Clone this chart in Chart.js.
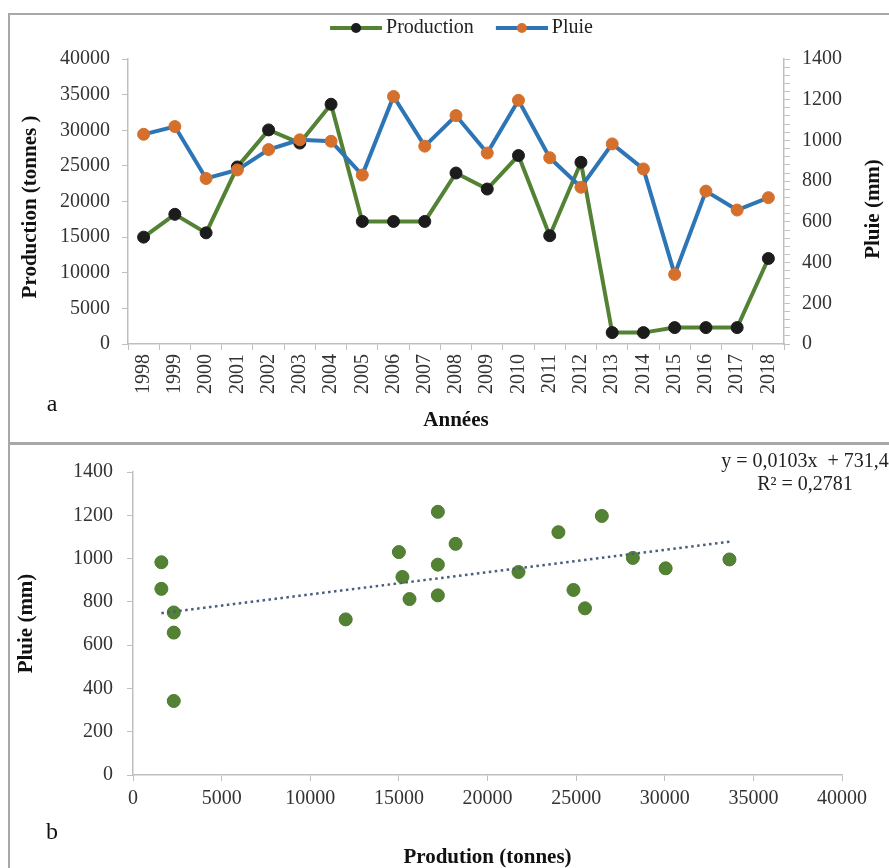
<!DOCTYPE html>
<html><head><meta charset="utf-8">
<script src="https://cdn.jsdelivr.net/npm/chart.js@4.4.1/dist/chart.umd.min.js"></script>
<style>
html,body{margin:0;padding:0;background:#fff;}
#wrap{position:relative;width:889px;height:868px;overflow:hidden;background:#fff;}
canvas{position:absolute;left:0;}
#c1{top:0;width:889px;height:440px;}
#c2{top:445px;width:889px;height:423px;}
.ln{position:absolute;background:#a8a8a8;}
</style></head><body>
<div id="wrap">
<div class="ln" style="left:8px;top:13px;width:881px;height:2px"></div>
<div class="ln" style="left:8px;top:13px;width:2px;height:855px"></div>
<div class="ln" style="left:8px;top:442px;width:881px;height:3px"></div>
<canvas id="c1" width="889" height="440"></canvas>
<canvas id="c2" width="889" height="423"></canvas>
</div>
<script>
// ---- data ----
const years = ['1998','1999','2000','2001','2002','2003','2004','2005','2006','2007','2008','2009','2010','2011','2012','2013','2014','2015','2016','2017','2018'];
const production = [15000, 18200, 15600, 24850, 30050, 28200, 33650, 17200, 17200, 17200, 24000, 21750, 26450, 15200, 25500, 1600, 1600, 2300, 2300, 2300, 12000];
const pluie = [1030, 1068, 813, 855, 955, 1003, 996, 830, 1216, 972, 1122, 938, 1197, 915, 770, 983, 860, 342, 751, 658, 719];
const trendSlope = 0.0103;
const trendIntercept = 731.4;
const trendR2 = '0,2781';

const SERIF = "'Liberation Serif','Times New Roman',serif";
Chart.defaults.font.family = SERIF;
Chart.defaults.font.size = 20;
Chart.defaults.color = '#333';

const plainNum = v => String(v);

function legendSymbol(lineColor, dotColor) {
  const c = document.createElement('canvas');
  c.width = 64; c.height = 14;
  const g = c.getContext('2d');
  g.strokeStyle = lineColor; g.lineWidth = 4;
  g.beginPath(); g.moveTo(12, 7); g.lineTo(64, 7); g.stroke();
  g.fillStyle = dotColor;
  g.beginPath(); g.arc(38, 7, 5, 0, Math.PI * 2); g.fill();
  return c;
}
const symbols = [legendSymbol('#548235', '#1c1c1c'), legendSymbol('#2e75b6', '#d4702c')];

const legendSpacer = {
  id: 'legendSpacer',
  beforeLayout(chart) {
    const lg = chart.legend;
    if (lg && !lg._spaced) {
      const f = lg.fit;
      lg.fit = function () { f.call(this); this.height += 11; };
      lg._spaced = true;
    }
  }
};

const textAnnot = {
  id: 'textAnnot',
  afterDraw(chart, args, opts) {
    const ctx = chart.ctx;
    (opts.items || []).forEach(it => {
      ctx.save();
      ctx.font = it.font;
      ctx.fillStyle = it.color || '#222';
      ctx.textAlign = it.align || 'center';
      ctx.textBaseline = 'middle';
      ctx.translate(it.x, it.y);
      if (it.rotate) ctx.rotate(it.rotate);
      ctx.fillText(it.text, 0, 0);
      ctx.restore();
    });
  }
};

const axisGray = '#bfbfbf';

// ---- chart a ----
new Chart(document.getElementById('c1'), {
  type: 'line',
  data: {
    labels: years,
    datasets: [
      { label: 'Production', data: production, yAxisID: 'y', borderColor: '#548235', borderWidth: 4,
        pointRadius: 6, pointBackgroundColor: '#1c1c1c', pointBorderColor: '#1c1c1c', pointBorderWidth: 1,
        tension: 0, order: 2 },
      { label: 'Pluie', data: pluie, yAxisID: 'y1', borderColor: '#2e75b6', borderWidth: 4,
        pointRadius: 6, pointBackgroundColor: '#d4702c', pointBorderColor: '#d4702c', pointBorderWidth: 1,
        tension: 0, order: 1 }
    ]
  },
  options: {
    responsive: false, animation: false,
    layout: { padding: { left: 28, right: 0, top: 2, bottom: 0 } },
    plugins: {
      tooltip: { enabled: false },
      legend: {
        position: 'top', align: 'center',
        labels: {
          usePointStyle: true, pointStyleWidth: 52, padding: 16, color: '#222',
          font: { family: SERIF, size: 20 },
          generateLabels(chart) {
            const items = Chart.defaults.plugins.legend.labels.generateLabels(chart);
            items.forEach(it => { it.pointStyle = symbols[it.datasetIndex]; });
            return items.sort((a, b) => a.datasetIndex - b.datasetIndex);
          }
        }
      },
      textAnnot: {
        items: [
          { text: 'Production (tonnes )', x: 31, y: 207, rotate: -Math.PI / 2, font: 'bold 21px ' + SERIF, color: '#111' },
          { text: 'Pluie (mm)', x: 874, y: 209, rotate: -Math.PI / 2, font: 'bold 21px ' + SERIF, color: '#111' },
          { text: 'a', x: 52, y: 405, font: '24px ' + SERIF, color: '#111' }
        ]
      }
    },
    scales: {
      x: {
        type: 'category', offset: true,
        grid: { offset: true, drawOnChartArea: false, tickLength: 6, color: axisGray },
        border: { color: axisGray, width: 1.5 },
        ticks: { minRotation: 90, maxRotation: 90, autoSkip: false, padding: 4, color: '#333' },
        title: { display: true, text: 'Années', color: '#111', font: { family: SERIF, size: 21, weight: 'bold', lineHeight: 1.2 }, padding: { top: 0, bottom: 7 } },
        afterFit(s) { s.height = 96; }
      },
      y: {
        position: 'left', min: 0, max: 40000,
        ticks: { stepSize: 5000, padding: 12, color: '#333', callback: plainNum },
        grid: { drawOnChartArea: false, tickLength: 6, color: axisGray },
        border: { color: axisGray, width: 1.5 },
        afterFit(s) { s.width = 100; }
      },
      y1: {
        position: 'right', min: 0, max: 1400,
        ticks: { stepSize: 40, autoSkip: false, padding: 12, color: '#333',
          callback: v => (v % 200 === 0 ? String(v) : '') },
        grid: { drawOnChartArea: false, tickLength: 6, color: axisGray },
        border: { color: axisGray, width: 1.5 },
        afterFit(s) { s.width = 105; }
      }
    }
  },
  plugins: [legendSpacer, textAnnot]
});

// ---- chart b ----
const xMin = Math.min(...production);
const xMax = Math.max(...production);
new Chart(document.getElementById('c2'), {
  type: 'scatter',
  data: {
    datasets: [
      { label: 'Pluie / Production', data: production.map((p, i) => ({ x: p, y: pluie[i] })),
        backgroundColor: '#548235', borderColor: '#4b7a2c', borderWidth: 1, pointRadius: 6.5, order: 1 },
      { type: 'line', label: 'Tendance', data: [
          { x: xMin, y: trendSlope * xMin + trendIntercept },
          { x: xMax, y: trendSlope * xMax + trendIntercept }],
        borderColor: '#4a5d7e', borderWidth: 2.5, borderDash: [2.5, 3.5], pointRadius: 0, fill: false, tension: 0, order: 0 }
    ]
  },
  options: {
    responsive: false, animation: false,
    layout: { padding: { left: 0, right: 47, top: 27, bottom: 0 } },
    plugins: {
      legend: { display: false },
      tooltip: { enabled: false },
      textAnnot: {
        items: [
          { text: 'y = 0,0103x  + 731,4', x: 805, y: 17, font: '20px ' + SERIF, color: '#222' },
          { text: 'R² = ' + trendR2, x: 805, y: 40, font: '20px ' + SERIF, color: '#222' },
          { text: 'b', x: 52, y: 388, font: '24px ' + SERIF, color: '#111' }
        ]
      }
    },
    scales: {
      x: {
        type: 'linear', min: 0, max: 40000,
        ticks: { stepSize: 5000, padding: 6, color: '#333', callback: plainNum },
        grid: { drawOnChartArea: false, tickLength: 6, color: axisGray },
        border: { color: axisGray, width: 1.5 },
        title: { display: true, text: 'Prodution (tonnes)', color: '#111', font: { family: SERIF, size: 21, weight: 'bold', lineHeight: 1 }, padding: { top: 0, bottom: 0 } },
        afterFit(s) { s.height = 93; }
      },
      y: {
        type: 'linear', min: 0, max: 1400,
        ticks: { stepSize: 200, padding: 14, color: '#333', callback: plainNum },
        grid: { drawOnChartArea: false, tickLength: 6, color: axisGray },
        border: { color: axisGray, width: 1.5 },
        title: { display: true, text: 'Pluie (mm)', color: '#111', font: { family: SERIF, size: 21, weight: 'bold', lineHeight: 1 }, padding: { top: 16.5, bottom: 0 } },
        afterFit(s) { s.width = 133; }
      }
    }
  },
  plugins: [textAnnot]
});
</script>
</body></html>
